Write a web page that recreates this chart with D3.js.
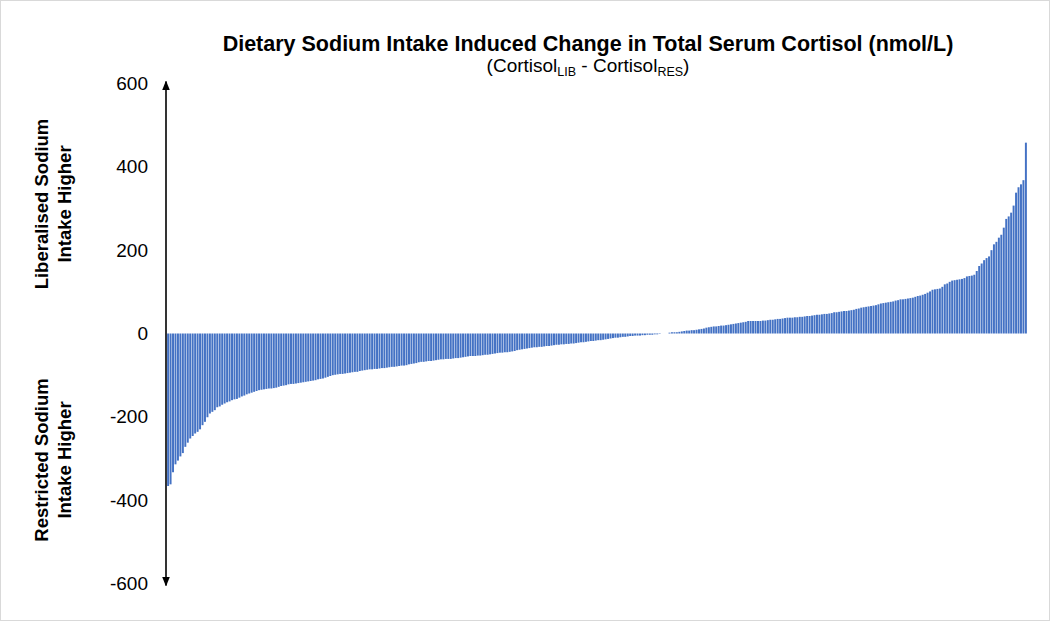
<!DOCTYPE html>
<html>
<head>
<meta charset="utf-8">
<script src="https://cdn.jsdelivr.net/npm/d3@7"></script>
<style>
  html, body { margin: 0; padding: 0; background: #fff; }
  svg { display: block; font-family: "Liberation Sans", Arial, sans-serif; }
</style>
</head>
<body>
<div id="chart"></div>
<script>
// sorted per-participant change in cortisol (nmol/L), LIB - RES
const changes = [
  -366, -362, -333, -314, -305, -295, -287, -272, -262, -252,
  -246, -240, -236, -230, -220, -212, -201, -192, -188, -184,
  -177, -175, -171, -168, -165, -163, -160, -158, -157, -154,
  -151, -149, -146, -144, -142, -140, -138, -136, -135, -134,
  -133, -132, -132, -131, -130, -128, -126, -125, -124, -122,
  -121, -121, -120, -119, -118, -117, -116, -115, -114, -113,
  -112, -110, -109, -108, -106, -104, -102, -100, -99, -98,
  -97, -97, -96, -95, -94, -93, -92, -92, -90, -89,
  -88, -87, -86, -86, -85, -85, -84, -83, -83, -82,
  -81, -80, -80, -79, -78, -77, -77, -76, -74, -73,
  -72, -71, -69, -68, -68, -67, -66, -66, -65, -64,
  -63, -62, -62, -61, -61, -61, -60, -59, -59, -58,
  -57, -56, -55, -54, -54, -54, -53, -53, -52, -51,
  -51, -50, -49, -48, -47, -46, -46, -45, -45, -44,
  -43, -42, -40, -39, -38, -37, -36, -35, -34, -33,
  -33, -32, -32, -31, -30, -30, -29, -28, -27, -27,
  -26, -26, -25, -25, -24, -24, -23, -22, -21, -21,
  -20, -19, -18, -18, -17, -16, -16, -15, -14, -13,
  -12, -11, -10, -10, -9, -8, -8, -7, -6, -6,
  -5, -5, -5, -4, -4, -3, -3, -3, -2, -2,
  -1, 0, 0, 0, 2, 3, 3, 3, 4, 5,
  6, 7, 7, 8, 8, 9, 10, 11, 12, 14,
  15, 16, 17, 17, 18, 19, 19, 20, 21, 22,
  23, 24, 25, 26, 27, 28, 30, 30, 30, 30,
  30, 30, 31, 31, 32, 33, 33, 34, 35, 35,
  36, 37, 38, 38, 38, 39, 39, 40, 40, 41,
  42, 42, 43, 44, 45, 45, 46, 47, 47, 48,
  49, 51, 51, 52, 53, 54, 54, 55, 56, 57,
  59, 60, 62, 63, 64, 65, 66, 67, 68, 70,
  72, 73, 74, 75, 76, 77, 79, 80, 82, 82,
  83, 84, 85, 86, 88, 90, 91, 93, 95, 98,
  101, 105, 106, 107, 108, 112, 118, 120, 124, 127,
  128, 129, 130, 131, 133, 137, 138, 139, 141, 150,
  162, 168, 176, 181, 185, 200, 214, 220, 230, 237,
  254, 275, 281, 290, 307, 338, 351, 358, 368, 458
];
const yTicks = [-600, -400, -200, 0, 200, 400, 600];
const yDomain = [-600, 600];
const titleText = "Dietary Sodium Intake Induced Change in Total Serum Cortisol (nmol/L)";
const upperLabel = ["Liberalised Sodium", "Intake Higher"];
const lowerLabel = ["Restricted Sodium", "Intake Higher"];

const W = 1050, H = 621;
const barColor = "#4472C4";

const svg = d3.select("#chart").append("svg")
    .attr("width", W)
    .attr("height", H);

// chart border
svg.append("rect")
    .attr("x", 0.5).attr("y", 0.5)
    .attr("width", W - 1).attr("height", H - 1)
    .attr("fill", "#fff")
    .attr("stroke", "#d9d9d9");

const x = d3.scaleBand()
    .domain(d3.range(changes.length))
    .range([167, 1027])
    .paddingInner(0.2)
    .paddingOuter(0.05);

const y = d3.scaleLinear()
    .domain(yDomain)
    .range([583.5, 83.5]);

// bars
svg.append("g")
  .selectAll("rect")
  .data(changes)
  .join("rect")
    .attr("x", (d, i) => x(i))
    .attr("width", x.bandwidth())
    .attr("y", d => y(Math.max(0, d)))
    .attr("height", d => Math.abs(y(d) - y(0)))
    .attr("fill", barColor);

// tick labels only (plain hyphen minus like the original)
const yAxis = svg.append("g")
    .attr("transform", "translate(148,0)")
    .call(d3.axisLeft(y).tickValues(yTicks).tickSize(0).tickPadding(0)
      .tickFormat(d => String(d)));
yAxis.select(".domain").remove();
yAxis.selectAll("text")
    .attr("font-family", "Liberation Sans, Arial, sans-serif")
    .attr("font-size", 19)
    .attr("fill", "#000");

// double-arrow axis line
const defs = svg.append("defs");
defs.append("marker")
    .attr("id", "arrow")
    .attr("viewBox", "0 0 10 10")
    .attr("refX", 9).attr("refY", 5)
    .attr("markerWidth", 6).attr("markerHeight", 6)
    .attr("orient", "auto-start-reverse")
  .append("path")
    .attr("d", "M0,1 L10,5 L0,9 Z")
    .attr("fill", "#000");

svg.append("line")
    .attr("x1", 166).attr("x2", 166)
    .attr("y1", y(600) - 2).attr("y2", y(-600) + 2)
    .attr("stroke", "#000")
    .attr("stroke-width", 1.6)
    .attr("marker-start", "url(#arrow)")
    .attr("marker-end", "url(#arrow)");

// side labels
function sideLabel(lines, cy) {
  const t = svg.append("text")
      .attr("transform", `translate(53,${cy}) rotate(-90)`)
      .attr("text-anchor", "middle")
      .attr("font-size", 18.5)
      .attr("font-weight", "bold")
      .attr("fill", "#000");
  lines.forEach((s, i) => {
    t.append("tspan")
      .attr("x", 0)
      .attr("dy", i === 0 ? "-0.25em" : "1.2em")
      .text(s);
  });
}
sideLabel(upperLabel, 204);
sideLabel(lowerLabel, 460);

// title
svg.append("text")
    .attr("x", 588).attr("y", 51)
    .attr("text-anchor", "middle")
    .attr("font-size", 21.5)
    .attr("font-weight", "bold")
    .text(titleText);

const sub = svg.append("text")
    .attr("x", 588).attr("y", 72)
    .attr("text-anchor", "middle")
    .attr("font-size", 19);
sub.append("tspan").text("(Cortisol");
sub.append("tspan").attr("font-size", 12.5).attr("dy", 4).text("LIB");
sub.append("tspan").attr("dy", -4).text(" - Cortisol");
sub.append("tspan").attr("font-size", 12.5).attr("dy", 4).text("RES");
sub.append("tspan").attr("dy", -4).text(")");
</script>
</body>
</html>
